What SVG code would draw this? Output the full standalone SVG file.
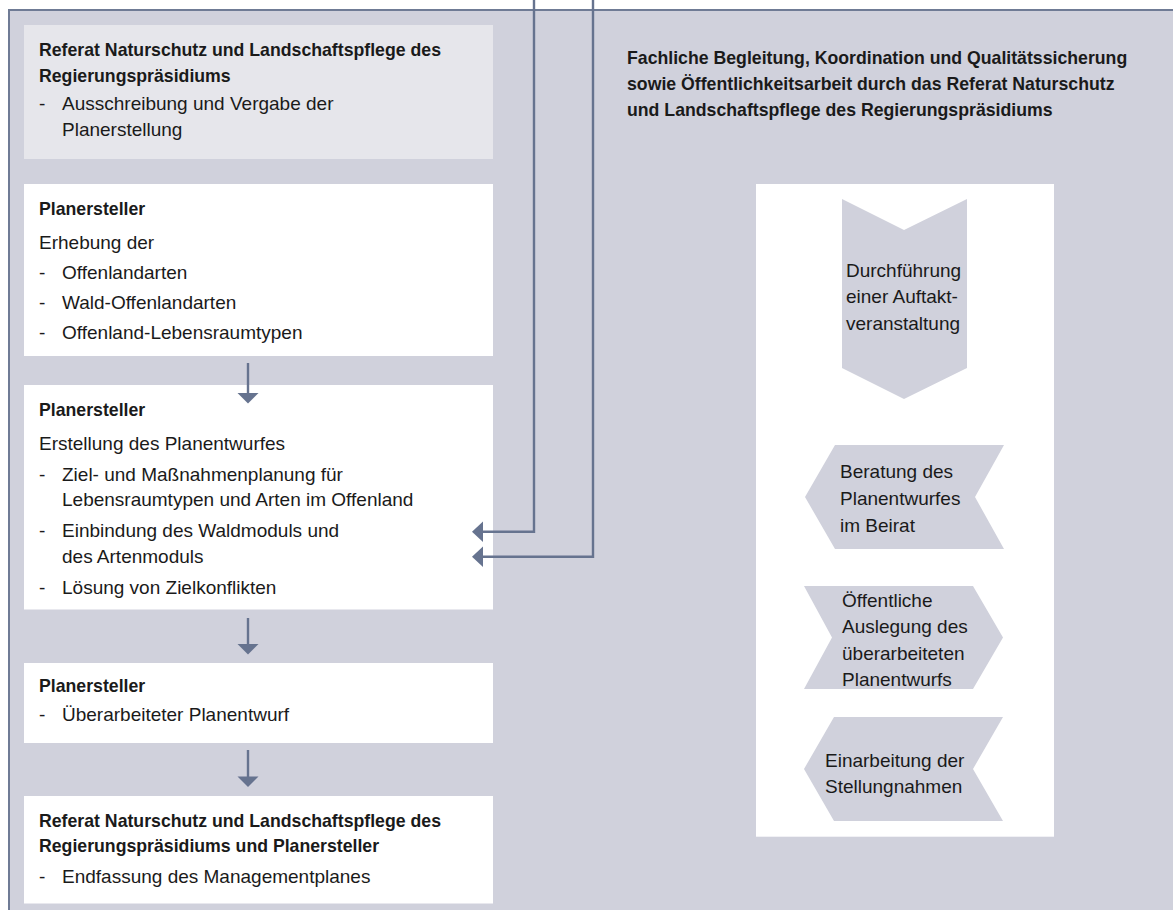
<svg xmlns="http://www.w3.org/2000/svg" width="1173" height="910" viewBox="0 0 1173 910">
<defs>
<style>
text{font-family:"Liberation Sans",Arial,sans-serif;fill:#1a1a1a}
.b{font-weight:bold;font-size:17.7px}
.r{font-size:19px}
.box{fill:#ffffff}
.chev{fill:#d0d1dc}
.con{fill:none;stroke:#66738f;stroke-width:2.4}
.head{fill:#66738f}
</style>
</defs>
<rect x="0" y="0" width="1173" height="910" fill="#ffffff"/>
<g id="panel">
<rect x="9" y="11" width="1164" height="899" fill="#d0d1dc"/>
<path d="M9,910 V10 H1173" fill="none" stroke="#6f7b95" stroke-width="2"/>
</g>
<g id="node-referat-top">
<rect x="24" y="25" width="469" height="134" fill="#e6e6eb"/>
<text class="b" x="39" y="56">Referat Naturschutz und Landschaftspflege des</text>
<text class="b" x="39" y="82">Regierungspräsidiums</text>
<text class="r" y="110"><tspan x="39">-</tspan><tspan x="62">Ausschreibung und Vergabe der</tspan></text>
<text class="r" x="62" y="135.5">Planerstellung</text>
</g>
<g id="node-planersteller-1">
<rect class="box" x="24" y="184" width="469" height="172"/>
<text class="b" x="39" y="215">Planersteller</text>
<text class="r" x="39" y="249">Erhebung der</text>
<text class="r" y="279"><tspan x="39">-</tspan><tspan x="62">Offenlandarten</tspan></text>
<text class="r" y="309"><tspan x="39">-</tspan><tspan x="62">Wald-Offenlandarten</tspan></text>
<text class="r" y="339"><tspan x="39">-</tspan><tspan x="62">Offenland-Lebensraumtypen</tspan></text>
</g>
<g id="node-planersteller-2">
<rect class="box" x="24" y="385" width="469" height="224.5"/>
<text class="b" x="39" y="416">Planersteller</text>
<text class="r" x="39" y="450">Erstellung des Planentwurfes</text>
<text class="r" y="481"><tspan x="39">-</tspan><tspan x="62">Ziel- und Maßnahmenplanung für</tspan></text>
<text class="r" x="62" y="506">Lebensraumtypen und Arten im Offenland</text>
<text class="r" y="537"><tspan x="39">-</tspan><tspan x="62">Einbindung des Waldmoduls und</tspan></text>
<text class="r" x="62" y="563">des Artenmoduls</text>
<text class="r" y="594"><tspan x="39">-</tspan><tspan x="62">Lösung von Zielkonflikten</tspan></text>
</g>
<g id="node-planersteller-3">
<rect class="box" x="24" y="663" width="469" height="80"/>
<text class="b" x="39" y="692">Planersteller</text>
<text class="r" y="721"><tspan x="39">-</tspan><tspan x="62">Überarbeiteter Planentwurf</tspan></text>
</g>
<g id="node-referat-end">
<rect class="box" x="24" y="796" width="469" height="107.5"/>
<text class="b" x="39" y="827">Referat Naturschutz und Landschaftspflege des</text>
<text class="b" x="39" y="852">Regierungspräsidiums und Planersteller</text>
<text class="r" y="883"><tspan x="39">-</tspan><tspan x="62">Endfassung des Managementplanes</tspan></text>
</g>
<g id="node-fachliche">
<text class="b" x="627" y="64">Fachliche Begleitung, Koordination und Qualitätssicherung</text>
<text class="b" x="627" y="90">sowie Öffentlichkeitsarbeit durch das Referat Naturschutz</text>
<text class="b" x="627" y="116">und Landschaftspflege des Regierungspräsidiums</text>
<rect class="box" x="756" y="184" width="298" height="652.7"/>
</g>
<g id="node-auftakt">
<polygon class="chev" points="842,199 904,230 967,199 967,368 904,399 842,368"/>
<text class="r" x="846" y="276.7">Durchführung</text>
<text class="r" x="846" y="303.3">einer Auftakt-</text>
<text class="r" x="846" y="330">veranstaltung</text>
</g>
<g id="node-beratung">
<polygon class="chev" points="835,445 1004,445 975,497 1004,549 835,549 805,497"/>
<text class="r" x="840" y="478">Beratung des</text>
<text class="r" x="840" y="505">Planentwurfes</text>
<text class="r" x="840" y="531.7">im Beirat</text>
</g>
<g id="node-auslegung">
<polygon class="chev" points="804,586 973,586 1003,637.5 973,689 804,689 832,637.5"/>
<text class="r" x="842" y="606.7">Öffentliche</text>
<text class="r" x="842" y="633.3">Auslegung des</text>
<text class="r" x="842" y="660">überarbeiteten</text>
<text class="r" x="842" y="686">Planentwurfs</text>
</g>
<g id="node-einarbeitung">
<polygon class="chev" points="834,717 1003,717 973,769 1003,821 834,821 804,769"/>
<text class="r" x="825" y="767.3">Einarbeitung der</text>
<text class="r" x="825" y="793.3">Stellungnahmen</text>
</g>
<g id="connectors">
<line class="con" x1="248" y1="363" x2="248" y2="394"/>
<polygon class="head" points="237.5,393 258.5,393 248,403.5"/>
<line class="con" x1="248" y1="618" x2="248" y2="645"/>
<polygon class="head" points="237.5,644 258.5,644 248,654.5"/>
<line class="con" x1="248" y1="750" x2="248" y2="777"/>
<polygon class="head" points="237.5,776.5 258.5,776.5 248,787"/>
<polyline class="con" points="534,0 534,531.7 482,531.7"/>
<polygon class="head" points="483,521.5 483,541.9 472,531.7"/>
<polyline class="con" points="593,0 593,556.7 482,556.7"/>
<polygon class="head" points="483,546.5 483,566.9 472,556.7"/>
</g>
</svg>
